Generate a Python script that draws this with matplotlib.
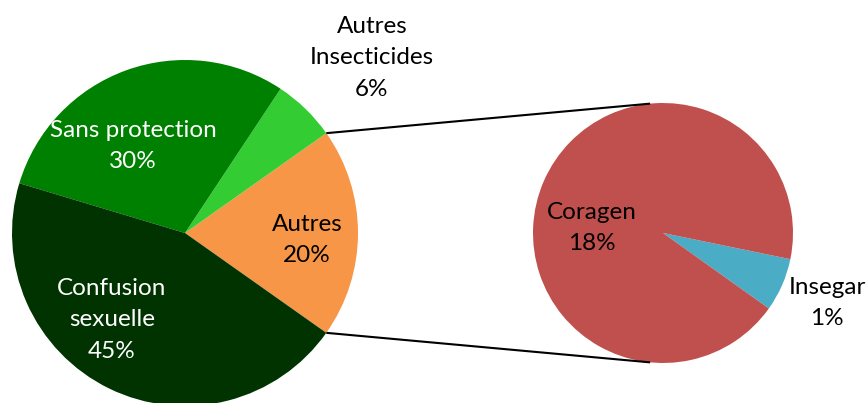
import numpy as np
import matplotlib.pyplot as plt

# main pie (percent of total)
main_labels = ['Autres', 'Autres\nInsecticides', 'Sans protection', 'Confusion\nsexuelle']
main_values = [19.6, 5.9, 29.7, 44.9]
main_colors = ['#F79646', '#33CC33', '#008000', '#003300']

# breakdown of "Autres"
sub_labels = ['Insegar', 'Coragen']
sub_values = [1.3, 18.3]
sub_colors = ['#4BACC6', '#C0504D']

W, H = 868, 403
fig = plt.figure(figsize=(W / 100, H / 100), dpi=100)
ax = fig.add_axes([0, 0, 1, 1])

# pixel-like coords, y up
c1, r1 = (185, H - 233), 173
c2, r2 = (663, H - 233), 130

start1 = -180 * main_values[0] / sum(main_values)
w1, _ = ax.pie(main_values, colors=main_colors, center=c1, radius=r1,
               startangle=start1, counterclock=True, frame=True,
               wedgeprops=dict(linewidth=0))
w2, _ = ax.pie(sub_values, colors=sub_colors, center=c2, radius=r2,
               startangle=-35.5, counterclock=True, frame=True,
               wedgeprops=dict(linewidth=0))

# connector lines from the "Autres" wedge to the second pie
t_top, t_bot = np.radians(w1[0].theta2), np.radians(w1[0].theta1)
for a1, a2 in [(t_top, np.radians(95.7)), (t_bot, np.radians(264.3))]:
    ax.plot([c1[0] + r1 * np.cos(a1), c2[0] + r2 * np.cos(a2)],
            [c1[1] + r1 * np.sin(a1), c2[1] + r2 * np.sin(a2)],
            color='black', lw=1.5, solid_capstyle='butt')

font = ['Lato', 'DejaVu Sans']
fs = 17.5
ls = 1.62
# label positions in pixels (x, y from top)
main_pos = [(307, 240), (372, 58), (133, 146), (112, 320)]
main_txt_col = ['black', 'black', 'white', 'white']
for lab, v, (x, y), col in zip(main_labels, main_values, main_pos, main_txt_col):
    ax.text(x, H - y, f'{lab}\n{v:.0f}%', ha='center', va='center', color=col,
            fontsize=fs, family=font, linespacing=ls)

sub_pos = [(827, 303), (592, 228)]
for lab, v, (x, y) in zip(sub_labels, sub_values, sub_pos):
    ax.text(x, H - y, f'{lab}\n{v:.0f}%', ha='center', va='center', color='black',
            fontsize=fs, family=font, linespacing=ls)

ax.set_xlim(0, W)
ax.set_ylim(0, H)
ax.set_aspect('auto')
ax.axis('off')

fig.savefig('out.png', dpi=100)
